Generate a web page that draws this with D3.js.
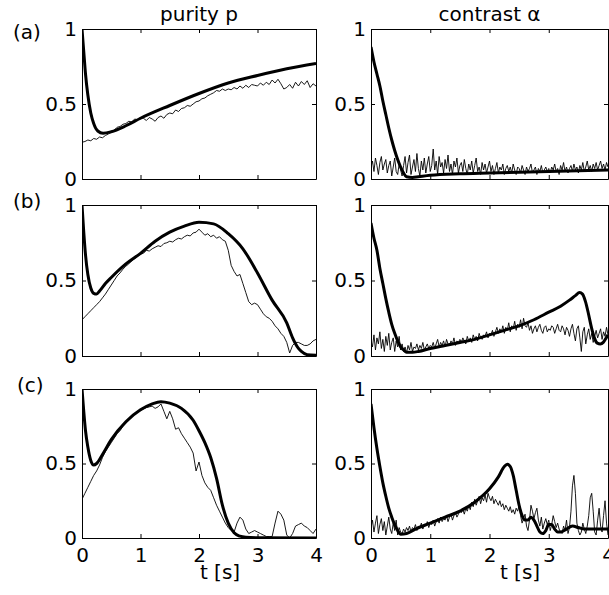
<!DOCTYPE html>
<html><head><meta charset="utf-8">
<script src="https://cdn.jsdelivr.net/npm/d3@7"></script>
<style>
html,body{margin:0;padding:0;background:#fff;}
svg{display:block;}
text{font-family:"DejaVu Sans",sans-serif;}
</style></head><body>
<svg id="chart" width="609" height="595"></svg>
<script>
// ---------- data ----------
const timeTicks = [0, 1, 2, 3, 4];
const valueTicks = [0, 0.5, 1];
const columnTitles = ["purity p", "contrast \u03b1"];
const rowLabels = ["(a)", "(b)", "(c)"];
const timeLabel = "t [s]";
const tEnd = 4;

// theory curves [t, value]
const purityTheoryA = [[0,1.0],[0.03,0.85],[0.06,0.7],[0.1,0.56],[0.15,0.44],[0.2,0.37],[0.27,0.32],[0.36,0.305],[0.5,0.315],[0.75,0.355],[1.0,0.405],[1.5,0.49],[2.0,0.57],[2.5,0.64],[3.0,0.69],[3.5,0.735],[4.0,0.77]];
const purityTheoryB = [[0,1.0],[0.03,0.82],[0.06,0.67],[0.1,0.54],[0.15,0.45],[0.2,0.415],[0.25,0.41],[0.3,0.43],[0.4,0.48],[0.5,0.52],[0.75,0.61],[1.0,0.68],[1.25,0.76],[1.5,0.82],[1.75,0.86],[2.0,0.885],[2.25,0.875],[2.5,0.81],[2.75,0.71],[3.0,0.55],[3.25,0.37],[3.5,0.22],[3.6,0.12],[3.7,0.05],[3.75,0.03],[3.85,0.008],[4.0,0.005]];
const purityTheoryC = [[0,1.0],[0.03,0.85],[0.06,0.72],[0.1,0.61],[0.15,0.52],[0.2,0.49],[0.25,0.5],[0.35,0.56],[0.5,0.66],[0.75,0.78],[1.0,0.86],[1.2,0.9],[1.35,0.915],[1.5,0.905],[1.7,0.87],[1.9,0.79],[2.0,0.72],[2.1,0.64],[2.2,0.54],[2.3,0.4],[2.4,0.22],[2.5,0.1],[2.6,0.035],[2.7,0.012],[2.8,0.005],[3.0,0.002],[4.0,0.0]];
const contrastTheoryA = [[0,0.88],[0.05,0.78],[0.1,0.7],[0.15,0.62],[0.2,0.52],[0.25,0.43],[0.3,0.34],[0.35,0.26],[0.4,0.19],[0.45,0.13],[0.5,0.08],[0.55,0.04],[0.6,0.015],[0.7,0.01],[0.8,0.015],[1.0,0.025],[1.5,0.035],[2.0,0.04],[2.5,0.045],[3.0,0.05],[3.5,0.055],[4.0,0.06]];
const contrastTheoryB = [[0,0.88],[0.05,0.78],[0.1,0.7],[0.15,0.58],[0.2,0.48],[0.25,0.38],[0.3,0.29],[0.35,0.21],[0.4,0.15],[0.45,0.1],[0.5,0.06],[0.55,0.04],[0.6,0.025],[0.7,0.025],[0.8,0.03],[1.0,0.05],[1.25,0.07],[1.5,0.09],[1.75,0.11],[2.0,0.14],[2.25,0.17],[2.5,0.2],[2.75,0.24],[3.0,0.29],[3.2,0.33],[3.35,0.37],[3.45,0.4],[3.52,0.42],[3.57,0.41],[3.62,0.36],[3.67,0.28],[3.72,0.19],[3.77,0.12],[3.82,0.085],[3.87,0.08],[3.92,0.09],[3.97,0.12],[4.0,0.14]];
const contrastTheoryC = [[0,0.9],[0.05,0.74],[0.1,0.6],[0.15,0.48],[0.2,0.37],[0.25,0.28],[0.3,0.2],[0.35,0.14],[0.4,0.09],[0.45,0.05],[0.5,0.025],[0.6,0.03],[0.75,0.06],[1.0,0.1],[1.25,0.14],[1.5,0.18],[1.75,0.24],[2.0,0.33],[2.15,0.41],[2.25,0.48],[2.3,0.495],[2.35,0.48],[2.4,0.42],[2.45,0.32],[2.5,0.22],[2.55,0.15],[2.6,0.12],[2.65,0.12],[2.7,0.14],[2.75,0.12],[2.8,0.08],[2.85,0.04],[2.9,0.03],[2.95,0.05],[3.0,0.09],[3.05,0.09],[3.1,0.06],[3.15,0.04],[3.2,0.04],[3.3,0.06],[3.4,0.08],[3.5,0.07],[3.6,0.06],[3.8,0.06],[4.0,0.06]];

// measured traces, equally spaced from t = 0 to t = 4
const purityExpA = [0.245,0.25,0.26,0.255,0.27,0.265,0.28,0.275,0.29,0.30,
 0.31,0.325,0.345,0.35,0.365,0.37,0.385,0.38,0.40,0.395,
 0.41,0.405,0.39,0.41,0.40,0.385,0.41,0.42,0.405,0.43,
 0.44,0.435,0.46,0.45,0.47,0.475,0.49,0.485,0.50,0.515,
 0.52,0.535,0.54,0.555,0.565,0.575,0.59,0.585,0.60,0.59,
 0.60,0.595,0.61,0.60,0.62,0.605,0.625,0.61,0.63,0.625,
 0.62,0.64,0.625,0.645,0.63,0.66,0.64,0.665,0.635,0.60,
 0.61,0.63,0.605,0.645,0.62,0.65,0.63,0.655,0.61,0.635,
 0.62];
const purityExpB = [0.24,0.26,0.28,0.30,0.32,0.34,0.36,0.385,0.41,0.44,
 0.47,0.50,0.53,0.55,0.575,0.595,0.61,0.63,0.645,0.66,
 0.675,0.68,0.70,0.695,0.71,0.72,0.73,0.725,0.745,0.75,
 0.76,0.755,0.77,0.78,0.775,0.79,0.80,0.795,0.815,0.82,
 0.84,0.82,0.80,0.81,0.79,0.80,0.78,0.79,0.77,0.76,
 0.70,0.60,0.56,0.53,0.54,0.48,0.42,0.36,0.34,0.35,
 0.34,0.31,0.28,0.26,0.25,0.23,0.20,0.18,0.15,0.13,
 0.09,0.02,0.07,0.09,0.09,0.08,0.07,0.07,0.08,0.10,
 0.11];
const purityExpC = [0.26,0.30,0.34,0.38,0.42,0.45,0.49,0.54,0.58,0.61,
 0.64,0.67,0.70,0.72,0.75,0.77,0.79,0.81,0.83,0.845,
 0.855,0.865,0.875,0.88,0.885,0.87,0.88,0.90,0.85,0.80,
 0.85,0.80,0.73,0.74,0.70,0.67,0.64,0.61,0.57,0.45,
 0.51,0.42,0.37,0.34,0.32,0.27,0.22,0.18,0.14,0.10,
 0.07,0.05,0.04,0.10,0.14,0.12,0.06,0.03,0.04,0.05,
 0.04,0.03,0.02,0.01,0.01,0.01,0.10,0.18,0.16,0.12,
 0.02,0.00,0.03,0.08,0.09,0.10,0.08,0.07,0.05,0.03,
 0.06];
const contrastExpA = [0.08,0.12,0.05,0.14,0.09,0.03,0.11,0.15,0.06,0.10,0.13,0.04,0.09,0.12,0.02,0.08,0.14,0.05,0.03,0.10,0.06,
 0.02,0.09,0.15,0.04,0.11,0.16,0.03,0.08,0.13,0.05,0.17,0.07,0.02,0.12,0.06,0.14,0.04,0.10,0.15,0.05,
 0.09,0.20,0.06,0.12,0.03,0.15,0.08,0.11,0.04,0.13,0.07,0.16,0.05,0.10,0.03,0.12,0.08,0.14,0.04,0.09,
 0.11,0.05,0.13,0.07,0.03,0.10,0.06,0.12,0.04,0.09,0.14,0.05,0.08,0.03,0.11,0.06,0.10,0.04,0.08,0.12,
 0.05,0.09,0.03,0.07,0.11,0.04,0.08,0.06,0.10,0.03,0.07,0.09,0.05,0.08,0.04,0.10,0.06,0.03,0.08,0.07,
 0.04,0.09,0.06,0.03,0.08,0.05,0.07,0.10,0.04,0.06,0.08,0.03,0.07,0.05,0.09,0.04,0.06,0.08,0.05,0.07,
 0.04,0.08,0.06,0.10,0.05,0.07,0.03,0.09,0.06,0.11,0.05,0.08,0.04,0.07,0.09,0.05,0.10,0.06,0.08,0.04,
 0.09,0.06,0.11,0.05,0.08,0.12,0.06,0.09,0.05,0.10,0.07,0.11,0.06,0.09,0.12,0.07,0.10,0.06,0.11,0.08];
const contrastExpB = [0.10,0.06,0.14,0.04,0.12,0.08,0.16,0.05,0.11,0.03,0.13,0.07,0.15,0.04,0.09,0.12,0.03,0.10,0.06,0.13,0.04,
 0.08,0.03,0.06,0.02,0.07,0.04,0.09,0.03,0.06,0.05,0.08,0.04,0.07,0.05,0.09,0.04,0.06,0.08,0.05,0.07,
 0.06,0.09,0.05,0.08,0.11,0.06,0.09,0.07,0.10,0.06,0.11,0.08,0.07,0.10,0.08,0.12,0.07,0.10,0.09,0.11,
 0.09,0.12,0.10,0.08,0.13,0.10,0.12,0.09,0.14,0.11,0.13,0.10,0.15,0.12,0.11,0.14,0.13,0.16,0.12,0.15,
 0.14,0.17,0.13,0.16,0.19,0.15,0.18,0.16,0.20,0.15,0.19,0.17,0.22,0.16,0.20,0.18,0.23,0.17,0.21,0.19,
 0.24,0.18,0.25,0.20,0.19,0.22,0.17,0.20,0.15,0.18,0.20,0.16,0.19,0.21,0.17,0.15,0.19,0.20,0.16,0.18,
 0.17,0.20,0.19,0.15,0.18,0.21,0.17,0.16,0.20,0.18,0.14,0.19,0.17,0.13,0.18,0.21,0.15,0.10,0.18,0.20,
 0.12,0.03,0.16,0.19,0.08,0.14,0.18,0.11,0.15,0.09,0.13,0.17,0.12,0.15,0.18,0.11,0.16,0.13,0.19,0.14];
const contrastExpC = [0.07,0.12,0.04,0.10,0.15,0.03,0.09,0.13,0.05,0.11,0.02,0.08,0.14,0.06,0.03,0.10,0.05,0.12,0.02,0.07,0.04,
 0.03,0.06,0.04,0.07,0.05,0.08,0.04,0.07,0.06,0.09,0.05,0.08,0.07,0.10,0.06,0.09,0.08,0.11,0.07,0.10,
 0.09,0.12,0.08,0.11,0.13,0.10,0.14,0.11,0.13,0.12,0.15,0.11,0.14,0.16,0.12,0.15,0.17,0.14,0.16,0.18,
 0.17,0.19,0.16,0.20,0.18,0.22,0.19,0.24,0.21,0.26,0.22,0.25,0.28,0.23,0.27,0.25,0.29,0.24,0.30,0.27,
 0.25,0.28,0.23,0.26,0.24,0.22,0.25,0.21,0.23,0.19,0.22,0.20,0.18,0.21,0.17,0.19,0.16,0.20,0.18,0.22,
 0.15,0.10,0.13,0.16,0.08,0.05,0.12,0.22,0.18,0.13,0.17,0.20,0.12,0.08,0.14,0.06,0.10,0.13,0.09,0.12,
 0.05,0.09,0.15,0.11,0.07,0.10,0.06,0.04,0.03,0.08,0.05,0.12,0.03,0.07,0.18,0.35,0.42,0.30,0.10,0.05,
 0.02,0.04,0.10,0.06,0.03,0.08,0.15,0.27,0.30,0.18,0.04,0.02,0.12,0.20,0.08,0.04,0.15,0.25,0.10,0.02];

// ---------- drawing ----------
const svg = d3.select("#chart");
svg.append("rect").attr("width", 609).attr("height", 595).attr("fill", "#fff");

const colX = [[82, 316], [371, 608]];
const rowY = [[29, 179], [205, 356], [389, 538]];
const FONT = "'DejaVu Sans', sans-serif";
const FS = 20;

const panels = [
  {r:0, c:0, theory:purityTheoryA, exp:purityExpA},
  {r:0, c:1, theory:contrastTheoryA, exp:contrastExpA},
  {r:1, c:0, theory:purityTheoryB, exp:purityExpB},
  {r:1, c:1, theory:contrastTheoryB, exp:contrastExpB},
  {r:2, c:0, theory:purityTheoryC, exp:purityExpC},
  {r:2, c:1, theory:contrastTheoryC, exp:contrastExpC}
];

const fmt = d => String(d);

panels.forEach((p, i) => {
  const [x0, x1] = colX[p.c], [y0, y1] = rowY[p.r];
  const x = d3.scaleLinear().domain([0, tEnd]).range([x0, x1]);
  const y = d3.scaleLinear().domain([0, 1]).range([y1, y0]);
  const cid = "clip" + i;
  svg.append("clipPath").attr("id", cid).append("rect")
    .attr("x", x0).attr("y", y0 - 1).attr("width", x1 - x0).attr("height", y1 - y0 + 2);

  const n = p.exp.length;
  const expPts = p.exp.map((v, k) => [k * tEnd / (n - 1), v]);
  const thin = d3.line().x(d => x(d[0])).y(d => y(d[1]));
  const thick = d3.line().x(d => x(d[0])).y(d => y(d[1])).curve(d3.curveMonotoneX);

  const lines = svg.append("g").attr("clip-path", `url(#${cid})`);
  lines.append("path").attr("d", thin(expPts)).attr("fill", "none")
    .attr("stroke", "#000").attr("stroke-width", 0.9).attr("stroke-linejoin", "round");
  lines.append("path").attr("d", thick(p.theory)).attr("fill", "none")
    .attr("stroke", "#000").attr("stroke-width", 3).attr("stroke-linejoin", "round");

  const styleAxis = g => {
    g.attr("font-size", FS).attr("font-family", FONT);
    g.selectAll("text").attr("fill", "#000");
    g.selectAll("line,path").attr("stroke", "#000").attr("stroke-width", 1);
  };

  svg.append("g").attr("transform", `translate(0,${y1})`)
    .call(d3.axisBottom(x).tickValues(timeTicks).tickSize(-4).tickSizeOuter(0)
      .tickPadding(10).tickFormat(p.r === 2 ? fmt : () => ""))
    .call(styleAxis);
  svg.append("g").attr("transform", `translate(0,${y0})`)
    .call(d3.axisTop(x).tickValues(timeTicks).tickSize(-4).tickSizeOuter(0).tickFormat(() => ""))
    .call(styleAxis);
  svg.append("g").attr("transform", `translate(${x0},0)`)
    .call(d3.axisLeft(y).tickValues(valueTicks).tickSize(-4).tickSizeOuter(0)
      .tickPadding(5).tickFormat(fmt))
    .call(styleAxis);
  svg.append("g").attr("transform", `translate(${x1},0)`)
    .call(d3.axisRight(y).tickValues(valueTicks).tickSize(-4).tickSizeOuter(0).tickFormat(() => ""))
    .call(styleAxis);
});

// column titles
columnTitles.forEach((t, c) => {
  svg.append("text").attr("x", (colX[c][0] + colX[c][1]) / 2).attr("y", 21)
    .attr("text-anchor", "middle").attr("font-size", FS).attr("font-family", FONT).text(t);
});
// row labels
const rowLabelPos = [[13, 39], [13, 208], [17, 392]];
rowLabels.forEach((t, r) => {
  svg.append("text").attr("x", rowLabelPos[r][0]).attr("y", rowLabelPos[r][1])
    .attr("font-size", FS).attr("font-family", FONT).text(t);
});
// x labels
[220, 520].forEach(cx => {
  svg.append("text").attr("x", cx).attr("y", 579).attr("text-anchor", "middle")
    .attr("font-size", FS).attr("font-family", FONT).text(timeLabel);
});
</script></body></html>
